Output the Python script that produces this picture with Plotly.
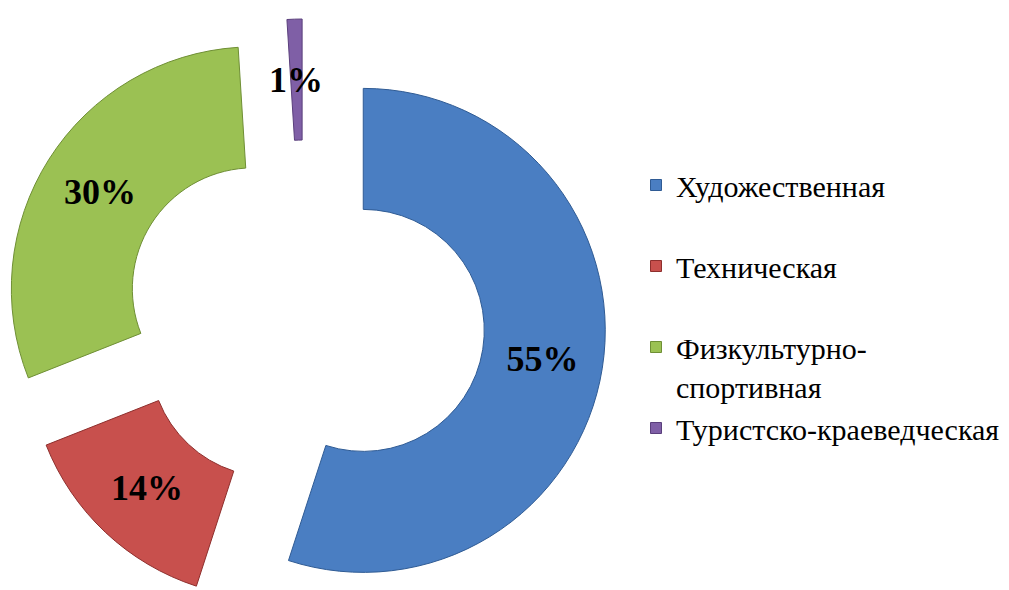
import math
import plotly.graph_objects as go

# ---- data ----
categories = ["Художественная", "Техническая", "Физкультурно-спортивная", "Туристско-краеведческая"]
legend_labels = ["Художественная<br> ", "Техническая<br> ", "Физкультурно-<br>спортивная", "Туристско-краеведческая"]
values = [55, 14, 30, 1]
percent_text = ["55%", "14%", "30%", "1%"]
colors = ["#4a7ec2", "#c8504d", "#9bc153", "#7f5fa6"]
edge_colors = ["#2f5b94", "#8e2f2d", "#6f8f35", "#5a3f7c"]

# ---- layout geometry (pixels on screen) ----
W, H = 1009, 590
OFF = 8                       # page offset of the figure
R = 242                       # outer radius
HOLE = 0.5
EXPLODE = [60, 48, 60, 60]    # outward shift of each piece
CX, CY = 304, 321             # common centre before exploding
SERIF = "Liberation Serif"
LABEL_SIZE = 36


def to_paper(xs, ys):
    return (xs - OFF) / W, 1 - (ys - OFF) / H


fig = go.Figure()
total = sum(values)
start = 0.0
annotations = []
for i, v in enumerate(values):
    mid = (start + v / 2.0) / total * 2 * math.pi
    start += v
    cx = CX + EXPLODE[i] * math.sin(mid)
    cy = CY - EXPLODE[i] * math.cos(mid)
    x0, y1 = to_paper(cx - R, cy - R)
    x1, y0 = to_paper(cx + R, cy + R)
    dom_x = [max(0.0, x0), min(1.0, x1)]
    dom_y = [max(0.0, y0), min(1.0, y1)]
    slice_colors = [colors[j] if j == i else "rgba(0,0,0,0)" for j in range(len(values))]
    line_colors = [edge_colors[j] if j == i else "rgba(0,0,0,0)" for j in range(len(values))]
    thin = v / total < 0.03
    texts = ["<b>" + percent_text[j] + "</b>" if (j == i and not thin) else "" for j in range(len(values))]
    fig.add_trace(go.Pie(
        labels=categories,
        values=values,
        text=texts,
        textinfo="text",
        textposition="inside",
        insidetextorientation="horizontal",
        hole=HOLE,
        sort=False,
        direction="clockwise",
        rotation=0,
        domain=dict(x=dom_x, y=dom_y),
        marker=dict(colors=slice_colors, line=dict(color=line_colors, width=1)),
        textfont=dict(family=SERIF, size=LABEL_SIZE, color="black"),
        showlegend=False,
        hoverinfo="skip",
    ))
    if thin:
        # label too wide for the thin piece: centre it on the ring
        rho = R * (1 + HOLE) / 2
        ax, ay = to_paper(cx + rho * math.sin(mid), cy - rho * math.cos(mid))
        annotations.append(dict(
            text="<b>" + percent_text[i] + "</b>", x=ax, y=ay, xref="paper", yref="paper",
            showarrow=False, xanchor="center", yanchor="middle",
            font=dict(family=SERIF, size=LABEL_SIZE, color="black")))

for i in range(len(values)):
    fig.add_trace(go.Scatter(
        x=[None], y=[None], mode="markers",
        name=legend_labels[i],
        legendgroup="g%d" % i,
        marker=dict(symbol="square", size=11, color=colors[i],
                    line=dict(color=edge_colors[i], width=1)),
        hoverinfo="skip",
    ))

lx, ly = to_paper(636, 159)
fig.update_xaxes(visible=False)
fig.update_yaxes(visible=False)
fig.update_layout(
    width=W, height=H,
    margin=dict(l=0, r=0, t=0, b=0),
    paper_bgcolor="white",
    plot_bgcolor="white",
    uniformtext=dict(minsize=LABEL_SIZE, mode="show"),
    annotations=annotations,
    showlegend=True,
    legend=dict(
        x=lx, y=ly, xanchor="left", yanchor="top",
        font=dict(family=SERIF, size=30, color="black"),
        valign="top",
        tracegroupgap=0,
        itemsizing="trace",
        bgcolor="rgba(0,0,0,0)",
    ),
)

fig.write_html("out.html")
